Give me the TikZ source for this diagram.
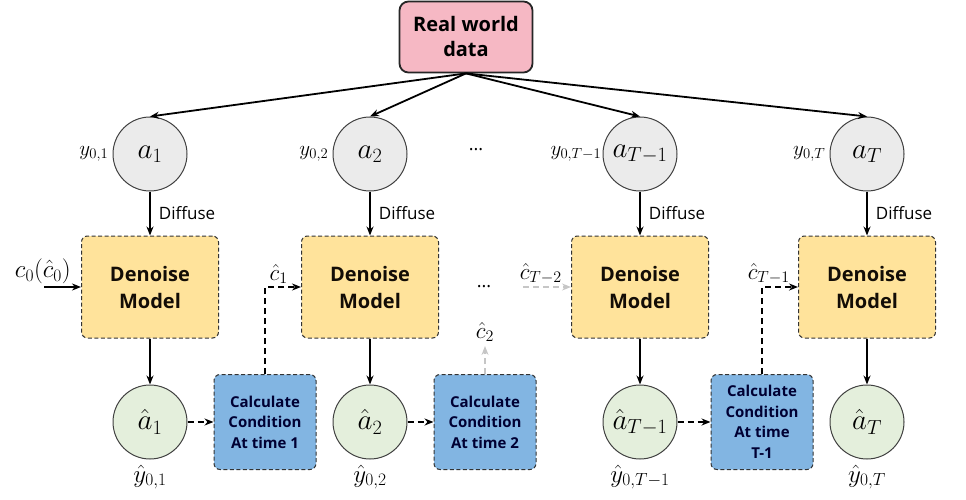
\RequirePackage{fix-cm}
\documentclass[tikz,border=0pt]{standalone}
\usepackage{amsmath,amssymb}
\usepackage{fontspec}
\setmainfont{Open Sans}
\usepackage{xcolor}
\usetikzlibrary{arrows.meta,positioning}
\definecolor{datapink}{HTML}{F6B8C4}
\definecolor{dmyellow}{HTML}{FFE39B}
\definecolor{ccblue}{HTML}{82B5E2}
\definecolor{estgreen}{HTML}{E4EFDC}
\definecolor{obsgray}{HTML}{EBEBEB}

\begin{document}
\begin{tikzpicture}[
      x=1pt, y=1pt,
      node distance = 44pt and 26pt,
      datbox/.style = {draw=black!85, line width=1.8pt, rounded corners=9pt,
                       fill=datapink, align=center, minimum width=133pt,
                       minimum height=71pt, font=\fontsize{20}{25}\selectfont\bfseries},
      obs/.style    = {circle, draw=black!75, line width=1pt, fill=obsgray,
                       minimum size=74pt, inner sep=0pt,
                       font=\fontsize{29}{32}\selectfont},
      est/.style    = {obs, fill=estgreen},
      dmbox/.style  = {draw=black!80, dash pattern=on 4pt off 2.5pt, line width=1pt,
                       rounded corners=6pt, fill=dmyellow, align=center,
                       minimum width=137pt, minimum height=102pt,
                       text=black!90!brown, font=\fontsize{20}{27}\selectfont\bfseries},
      ccbox/.style  = {dmbox, fill=ccblue, minimum width=102pt, minimum height=95pt,
                       text=black!80!blue, font=\fontsize{15}{20.5}\selectfont\bfseries},
      lbl/.style    = {font=\fontsize{21}{24}\selectfont, inner sep=1pt},
      clbl/.style   = {lbl, font=\fontsize{23}{26}\selectfont},
      hlbl/.style   = {lbl, font=\fontsize{25}{28}\selectfont},
      diff/.style   = {right, font=\fontsize{17}{19}\selectfont, inner sep=8pt},
      arrow/.style  = {-{Stealth[length=9pt,width=7pt]}, line width=1.8pt},
      cond/.style   = {arrow, dash pattern=on 6pt off 4pt},
      faded/.style  = {cond, line width=1.4pt, gray!45}
    ]
    \useasboundingbox (0,0) rectangle (966,-500);

    \node[datbox] (data) at (466,-37) {Real world\\data};

    \node[obs] (a1)  at (150,-154) {$a_1$};
    \node[obs] (a2)  at (370,-154) {$a_2$};
    \node[obs] (aT1) at (640,-154) {$a_{T-1}$};
    \node[obs] (aT)  at (867,-154) {$a_T$};

    \node[lbl, left=3pt of a1]  (y1)  {$y_{0,1}$};
    \node[lbl, left=3pt of a2]  (y2)  {$y_{0,2}$};
    \node[lbl, left=0pt of aT1] (yT1) {$y_{0,T-1}$};
    \node[lbl, left=3pt of aT]  (yT)  {$y_{0,T}$};

    \node[dmbox, below=of a1]  (dm1) {Denoise\\Model};
    \node[dmbox, below=of a2]  (dm2) {Denoise\\Model};
    \node[dmbox, below=of aT1] (dm3) {Denoise\\Model};
    \node[dmbox, below=of aT]  (dm4) {Denoise\\Model};

    \node[est, below=46pt of dm1] (h1)  {$\hat{a}_1$};
    \node[est, below=46pt of dm2] (h2)  {$\hat{a}_2$};
    \node[est, below=46pt of dm3] (hT1) {$\hat{a}_{T-1}$};
    \node[est, below=46pt of dm4] (hT)  {$\hat{a}_T$};

    \node[hlbl, below=4pt of h1]  (yh1)  {$\hat{y}_{0,1}$};
    \node[hlbl, below=4pt of h2]  (yh2)  {$\hat{y}_{0,2}$};
    \node[hlbl, below=4pt of hT1] (yhT1) {$\hat{y}_{0,T-1}$};
    \node[hlbl, below=4pt of hT]  (yhT)  {$\hat{y}_{0,T}$};

    \node[ccbox, right=of h1]      (cc1) {Calculate\\Condition\\At time 1};
    \node[ccbox, right=of h2]      (cc2) {Calculate\\Condition\\At time 2};
    \node[ccbox, right=33pt of hT1] (cc3) {Calculate\\Condition\\At time\\T-1};

    \node[font=\fontsize{18}{20}\selectfont] (dtop) at (476,-150) {...};
    \node[font=\fontsize{18}{20}\selectfont] (dmid) at (484,-287) {...};

    \coordinate[left=37pt of dm1.west] (c0in);
    \coordinate[left=48pt of dm3.west] (cT2in);
    \coordinate[above=28pt of cc2.north] (c2up);

    \node[hlbl, above left=2pt and 9pt of dm1.west]  (c0)  {$c_0(\hat{c}_0)$};
    \node[clbl, above left=2pt and 12pt of dm2.west] (c1)  {$\hat{c}_1$};
    \node[clbl, above left=2pt and 8pt of dm3.west]  (cT2) {$\hat{c}_{T-2}$};
    \node[clbl, above left=2pt and 7pt of dm4.west]  (cT1) {$\hat{c}_{T-1}$};
    \node[clbl, above=3pt of c2up]                   (c2)  {$\hat{c}_2$};

    \draw[arrow] (data.south) -- (a1.north);
    \draw[arrow] (data.south) -- (a2.north);
    \draw[arrow] (data.south) -- (aT1.north);
    \draw[arrow] (data.south) -- (aT.north);

    \draw[arrow] (a1)  -- node[diff] {Diffuse} (dm1);
    \draw[arrow] (a2)  -- node[diff] {Diffuse} (dm2);
    \draw[arrow] (aT1) -- node[diff] {Diffuse} (dm3);
    \draw[arrow] (aT)  -- node[diff] {Diffuse} (dm4);

    \draw[arrow] (dm1) -- (h1);
    \draw[arrow] (dm2) -- (h2);
    \draw[arrow] (dm3) -- (hT1);
    \draw[arrow] (dm4) -- (hT);

    \draw[cond] (h1)  -- (cc1);
    \draw[cond] (h2)  -- (cc2);
    \draw[cond] (hT1) -- (cc3);

    \draw[arrow] (c0in) -- (dm1.west);
    \draw[cond] (cc1.north) |- (dm2.west);
    \draw[cond] (cc3.north) |- (dm4.west);
    \draw[faded] (cT2in) -- (dm3.west);
    \draw[faded] (cc2.north) -- (c2up);
  \end{tikzpicture}
\end{document}
